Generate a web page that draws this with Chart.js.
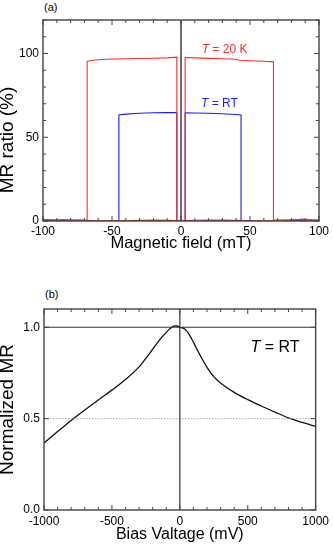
<!DOCTYPE html>
<html>
<head>
<meta charset="utf-8">
<script src="https://cdn.jsdelivr.net/npm/chart.js@4.4.1/dist/chart.umd.min.js"></script>
<style>
  body { margin: 0; background: #fff; }
  #wrap { position: relative; width: 333px; height: 550px; font-family: "Liberation Sans", Arial, sans-serif; }
  canvas { position: absolute; left: 0; }
  .tag { position: absolute; font-size: 11px; color: #000; }
</style>
</head>
<body>
<div id="wrap">
  <div class="tag" style="left:44px; top:1px;">(a)</div>
  <canvas id="chartA" width="333" height="275" style="top:0"></canvas>
  <div class="tag" style="left:45px; top:288px;">(b)</div>
  <canvas id="chartB" width="333" height="275" style="top:275px"></canvas>
</div>
<script>
// (a) MR loops, field in mT, MR in %
const redDownX = [100, 95, 90, 88, 80, 70, 60, 50, 40, 30, 20, 10, 0, -3, -3, -10, -20, -30, -40, -50, -60, -65, -68, -68, -75, -80, -85, -90, -95, -100];
const redDownY = [0.6, 0.5, 0.4, 1.0, 0.5, 0.3, 0.2, 0.3, 0.4, 0.6, 0.5, 0.4, 0.3, 0.3, 97.8, 97.4, 97.2, 97.0, 96.9, 96.7, 96.3, 95.8, 95.3, 0.4, 0.6, 0.5, 0.8, 0.5, 0.7, 0.9];
const redUpX = [-100, -90, -80, -70, -60, -50, -40, -30, -20, -10, 0, 3, 3, 10, 20, 30, 40, 42, 50, 60, 67, 67, 75, 85, 88, 95, 100];
const redUpY = [0.8, 0.6, 0.5, 0.4, 0.3, 0.2, 0.3, 0.4, 0.5, 0.4, 0.3, 0.3, 97.6, 97.4, 97.1, 96.9, 96.6, 96.0, 95.7, 95.4, 95.0, 0.5, 0.6, 0.8, 1.2, 0.7, 0.6];
const blueDownX = [100, 60, 20, 0, -3, -3, -10, -20, -30, -40, -45, -45, -70, -100];
const blueDownY = [0.1, 0.1, 0.1, 0.1, 0.1, 64.7, 64.7, 64.6, 64.3, 63.8, 63.3, 0.1, 0.1, 0.1];
const blueUpX = [-100, -60, -20, 0, 3, 3, 10, 20, 30, 40, 43.5, 43.5, 70, 100];
const blueUpY = [0.1, 0.1, 0.1, 0.1, 0.1, 64.6, 64.5, 64.3, 64.0, 63.6, 63.3, 0.1, 0.1, 0.1];
const fieldTicks = [-100, -50, 0, 50, 100];
const mrTicks = [0, 50, 100];

// (b) bias dependence, normalized MR
const biasX = [-1000, -900, -800, -700, -600, -500, -400, -300, -250, -200, -150, -100, -70, -40, -20, 0, 25, 50, 75, 100, 125, 150, 200, 250, 300, 400, 500, 600, 700, 800, 900, 1000];
const normMR = [0.367, 0.429, 0.490, 0.547, 0.602, 0.656, 0.714, 0.783, 0.830, 0.880, 0.930, 0.972, 0.994, 1.008, 1.007, 1.000, 0.995, 0.980, 0.953, 0.918, 0.881, 0.846, 0.781, 0.730, 0.695, 0.644, 0.604, 0.569, 0.536, 0.504, 0.479, 0.458];
const biasTicks = [-1000, -500, 0, 500, 1000];
const normTicks = [0, 0.5, 1.0];

Chart.defaults.font.family = '"Liberation Sans", Arial, sans-serif';
Chart.defaults.color = '#000';

function pts(xs, ys) {
  return xs.map((x, i) => ({ x: x, y: ys[i] }));
}

// Rahmen, nach innen zeigende Ticks, y-Titel und Beschriftungen
const framePlugin = {
  id: 'framePlugin',
  afterDraw(chart, args, o) {
    const { ctx, chartArea: a, scales: { x, y } } = chart;
    ctx.save();
    ctx.strokeStyle = '#444';
    ctx.lineWidth = 1.4;
    ctx.strokeRect(a.left, a.top, a.right - a.left, a.bottom - a.top);
    ctx.lineWidth = 1;
    ctx.beginPath();
    for (let i = 0; i <= o.xN; i++) {
      const v = x.min + (x.max - x.min) * i / o.xN;
      const len = (i % o.xEvery === 0) ? 5 : 3;
      const px = x.getPixelForValue(v);
      ctx.moveTo(px, a.bottom); ctx.lineTo(px, a.bottom - len);
      ctx.moveTo(px, a.top); ctx.lineTo(px, a.top + len);
    }
    for (let i = 0; i <= o.yN; i++) {
      const v = o.yMin + o.yStep * i;
      const len = (i % o.yEvery === 0) ? 5 : 3;
      const py = y.getPixelForValue(v);
      ctx.moveTo(a.left, py); ctx.lineTo(a.left + len, py);
      ctx.moveTo(a.right, py); ctx.lineTo(a.right - len, py);
    }
    ctx.stroke();

    // y-Achsentitel
    ctx.fillStyle = '#000';
    ctx.font = '19px "Liberation Sans", Arial, sans-serif';
    ctx.textAlign = 'center';
    ctx.textBaseline = 'middle';
    ctx.translate(o.titleX, o.titleY);
    ctx.rotate(-Math.PI / 2);
    ctx.fillText(o.title, 0, 0);
    ctx.restore();

    // Beschriftungen "T = ..."
    (o.notes || []).forEach(n => {
      ctx.save();
      ctx.fillStyle = n.color;
      ctx.textBaseline = 'middle';
      ctx.textAlign = 'left';
      let px = x.getPixelForValue(n.x);
      const py = y.getPixelForValue(n.y);
      ctx.font = 'italic ' + n.size + 'px "Liberation Sans", Arial, sans-serif';
      ctx.fillText('T', px, py);
      px += ctx.measureText('T').width;
      ctx.font = n.size + 'px "Liberation Sans", Arial, sans-serif';
      ctx.fillText(n.text, px, py);
      ctx.restore();
    });
  }
};

function keepTicks(list) {
  return scale => { scale.ticks = list.map(v => ({ value: v })); };
}

function lineSet(data, color, width, dash) {
  return {
    data: data,
    showLine: true,
    borderColor: color,
    borderWidth: width,
    borderDash: dash || [],
    pointRadius: 0,
    tension: 0
  };
}

new Chart(document.getElementById('chartA'), {
  type: 'scatter',
  data: {
    datasets: [
      lineSet(pts([0, 0], [0, 120]), '#333', 1.4),
      lineSet(pts(redDownX, redDownY), '#ff2a2a', 1.1),
      lineSet(pts(redUpX, redUpY), '#ff2a2a', 1.1),
      lineSet(pts(blueDownX, blueDownY), '#1a1aff', 1.1),
      lineSet(pts(blueUpX, blueUpY), '#1a1aff', 1.1)
    ]
  },
  options: {
    responsive: false,
    animation: false,
    layout: { padding: { top: 20, right: 14, bottom: 0, left: 0 } },
    plugins: {
      legend: { display: false },
      tooltip: { enabled: false },
      framePlugin: {
        xN: 20, xEvery: 5, yMin: 0, yStep: 10, yN: 12, yEvery: 5,
        title: 'MR ratio (%)', titleX: 8, titleY: 140,
        notes: [
          { x: 15, y: 102.4, text: ' = 20 K', color: '#ff2a2a', size: 12 },
          { x: 14.5, y: 70.2, text: ' = RT', color: '#1a1aff', size: 12 }
        ]
      }
    },
    scales: {
      x: {
        type: 'linear', min: -100, max: 100,
        grid: { display: false, drawTicks: false },
        border: { display: false },
        afterBuildTicks: keepTicks(fieldTicks),
        afterFit: s => { s.height = 54; },
        ticks: { font: { size: 12 }, padding: 3, maxRotation: 0, callback: v => String(v) },
        title: { display: true, text: 'Magnetic field (mT)', font: { size: 16.5 }, padding: { top: 0, bottom: 22 } }
      },
      y: {
        type: 'linear', min: 0, max: 120,
        grid: { display: false, drawTicks: false },
        border: { display: false },
        afterBuildTicks: keepTicks(mrTicks),
        afterFit: s => { s.width = 43; },
        ticks: { font: { size: 12 }, padding: 4, callback: v => String(v) }
      }
    }
  },
  plugins: [framePlugin]
});

new Chart(document.getElementById('chartB'), {
  type: 'scatter',
  data: {
    datasets: [
      lineSet(pts([0, 0], [0, 1.1]), '#333', 1.2),
      lineSet(pts([-1000, 1000], [1, 1]), '#333', 1.2),
      lineSet(pts([-1000, 1000], [0.5, 0.5]), '#aaa', 1, [1.5, 1.5]),
      Object.assign(lineSet(pts(biasX, normMR), '#111', 1.3), { tension: 0.4, cubicInterpolationMode: 'monotone' })
    ]
  },
  options: {
    responsive: false,
    animation: false,
    layout: { padding: { top: 34, right: 14, bottom: 0, left: 0 } },
    plugins: {
      legend: { display: false },
      tooltip: { enabled: false },
      framePlugin: {
        xN: 20, xEvery: 5, yMin: 0, yStep: 0.5, yN: 2, yEvery: 1,
        title: 'Normalized MR', titleX: 8, titleY: 134.5,
        notes: [
          { x: 520, y: 0.887, text: ' = RT', color: '#000', size: 16 }
        ]
      }
    },
    scales: {
      x: {
        type: 'linear', min: -1000, max: 1000,
        grid: { display: false, drawTicks: false },
        border: { display: false },
        afterBuildTicks: keepTicks(biasTicks),
        afterFit: s => { s.height = 40; },
        ticks: { font: { size: 12 }, padding: 4, maxRotation: 0, callback: v => String(v) },
        title: { display: true, text: 'Bias Valtage (mV)', font: { size: 16 }, padding: { top: 0, bottom: 6 } }
      },
      y: {
        type: 'linear', min: 0, max: 1.1,
        grid: { display: false, drawTicks: false },
        border: { display: false },
        afterBuildTicks: keepTicks(normTicks),
        afterFit: s => { s.width = 44; },
        ticks: { font: { size: 12 }, padding: 4, callback: v => v.toFixed(1) }
      }
    }
  },
  plugins: [framePlugin]
});
</script>
</body>
</html>
